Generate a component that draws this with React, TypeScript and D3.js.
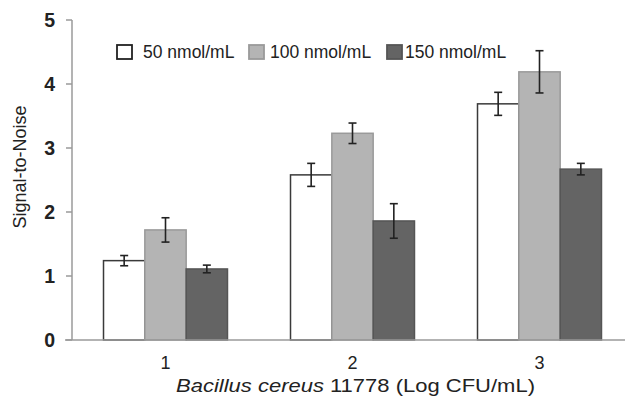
import React from "react";
import * as d3 from "d3";

const categories = ["1", "2", "3"];
const seriesNames = ["50 nmol/mL", "100 nmol/mL", "150 nmol/mL"];
const values50 = [1.24, 2.58, 3.69];
const values100 = [1.72, 3.23, 4.19];
const values150 = [1.11, 1.86, 2.67];
const err50 = [0.08, 0.18, 0.18];
const err100 = [0.19, 0.16, 0.33];
const err150 = [0.06, 0.27, 0.09];
const yTicks = [0, 1, 2, 3, 4, 5];

const fills = ["#ffffff", "#b4b4b4", "#646464"];
const strokes = ["#3a3a3a", "#9a9a9a", "#555555"];

export default function App() {
  const W = 625, H = 404;
  const left = 72, bottom = 340, top = 20;
  const x0 = d3.scaleBand<string>().domain(categories).range([left, left + 561]).paddingInner(0.337).paddingOuter(0.1685);
  const x1 = d3.scaleBand<string>().domain(seriesNames).range([0, x0.bandwidth()]);
  const y = d3.scaleLinear().domain([0, 5]).range([bottom, top]);
  const vals = [values50, values100, values150];
  const errs = [err50, err100, err150];
  const font = "'Liberation Sans', Arial, sans-serif";

  const legendX = [117, 249, 387];
  const legendTextX = [143, 270, 405];

  return (
    <svg width={W} height={H} style={{ position: "absolute", left: 0, top: 0, background: "#fff" }} fontFamily={font}>
      {/* bars */}
      {categories.map((c, ci) =>
        seriesNames.map((s, si) => {
          const bx = (x0(c) as number) + (x1(s) as number);
          const v = vals[si][ci];
          return (
            <rect key={c + s} x={bx} y={y(v)} width={x1.bandwidth()} height={bottom - y(v)}
              fill={fills[si]} stroke={strokes[si]} strokeWidth={1.5} />
          );
        })
      )}
      {/* error bars */}
      {categories.map((c, ci) =>
        seriesNames.map((s, si) => {
          const cx = (x0(c) as number) + (x1(s) as number) + x1.bandwidth() / 2;
          const v = vals[si][ci];
          const e = errs[si][ci];
          const y1 = y(v + e), y2 = y(v - e);
          return (
            <g key={"e" + c + s} stroke="#222" strokeWidth={1.6}>
              <line x1={cx} x2={cx} y1={y1} y2={y2} />
              <line x1={cx - 4} x2={cx + 4} y1={y1} y2={y1} />
              <line x1={cx - 4} x2={cx + 4} y1={y2} y2={y2} />
            </g>
          );
        })
      )}
      {/* y axis */}
      <line x1={left} x2={left} y1={top} y2={bottom} stroke="#9a9a9a" strokeWidth={1.5} />
      {yTicks.map((t) => (
        <g key={t}>
          <line x1={left - 6} x2={left} y1={y(t)} y2={y(t)} stroke="#9a9a9a" strokeWidth={1.5} />
          <text x={55} y={y(t) + 7} textAnchor="end" fontSize={19.5} fontWeight="bold" fill="#222">{t}</text>
        </g>
      ))}
      {/* x axis */}
      <line x1={65} x2={W} y1={bottom} y2={bottom} stroke="#9a9a9a" strokeWidth={1.5} />
      {categories.map((c) => (
        <text key={c} x={(x0(c) as number) + x0.bandwidth() / 2} y={369} textAnchor="middle" fontSize={18} fill="#222">{c}</text>
      ))}
      <text x={176} y={392} fontSize={19} fill="#222" textLength={359} lengthAdjust="spacingAndGlyphs">
        <tspan fontStyle="italic">Bacillus cereus</tspan> 11778 (Log CFU/mL)
      </text>
      <text transform={`translate(26,167) rotate(-90)`} textAnchor="middle" fontSize={18} fill="#222">Signal-to-Noise</text>
      {/* legend */}
      {seriesNames.map((s, si) => (
        <g key={"l" + s}>
          <rect x={legendX[si]} y={45} width={15} height={14} fill={fills[si]} stroke={si === 0 ? "#222" : strokes[si]} strokeWidth={1.8} />
          <text x={legendTextX[si]} y={58} fontSize={17.5} fill="#222">{s}</text>
        </g>
      ))}
    </svg>
  );
}
